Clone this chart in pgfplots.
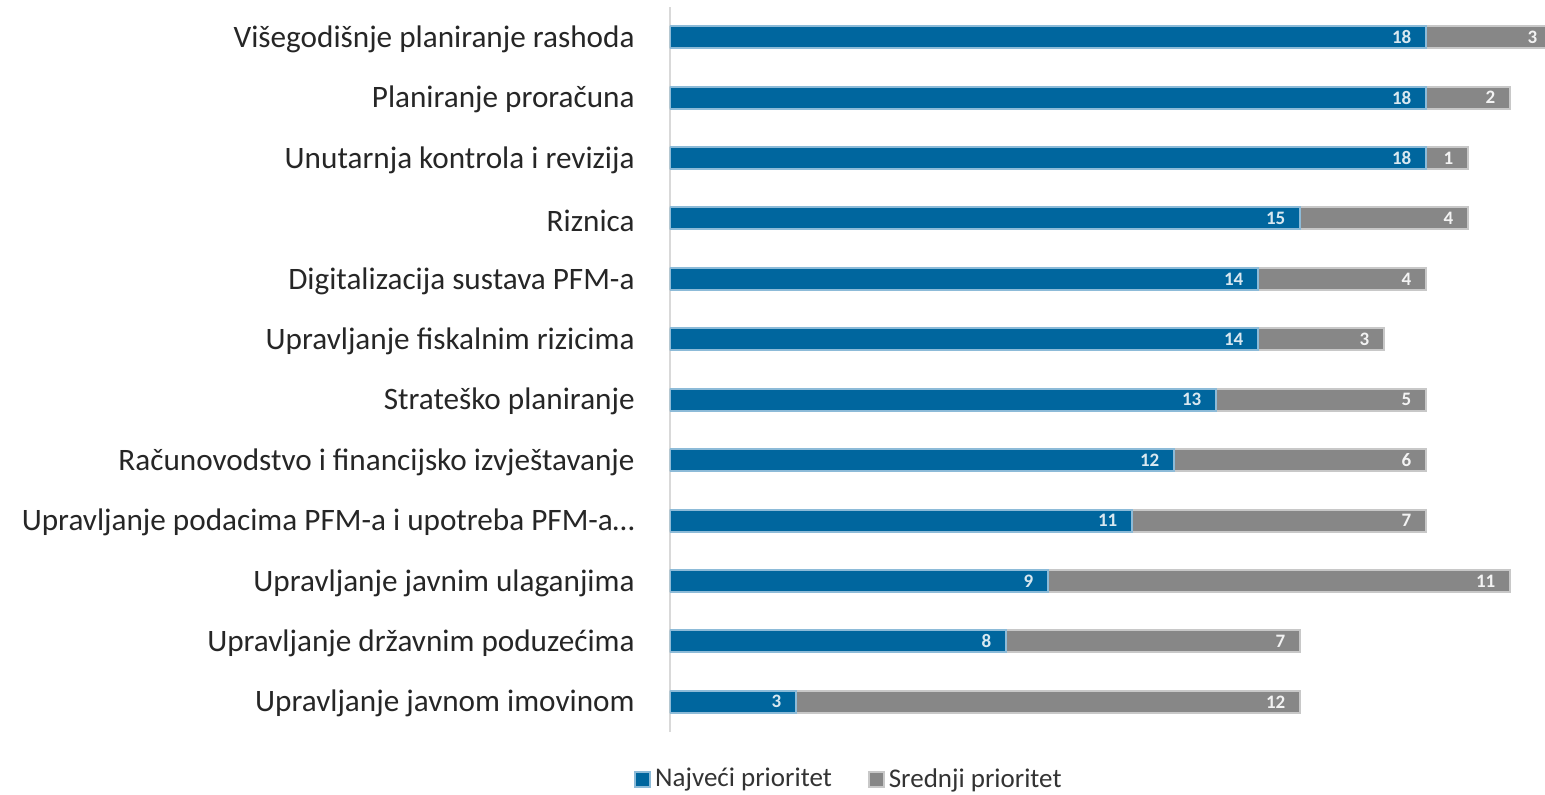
\documentclass[border=0pt]{standalone}
\usepackage{pgfplots}
\pgfplotsset{compat=1.18}
\usepackage{fontspec}
\setmainfont{Carlito}
\definecolor{cblue}{HTML}{00669E}
\definecolor{cblueb}{HTML}{8DBBD8}
\definecolor{cgray}{HTML}{878787}
\definecolor{cgrayb}{HTML}{C8C8C8}
\definecolor{caxis}{HTML}{D9D9D9}
\begin{document}
\begin{tikzpicture}
\begin{axis}[
 scale only axis, width=441pt, height=362.5pt,
 xbar stacked, bar width=11pt,
 xmin=0, xmax=21, ymin=-0.5, ymax=11.5,
 axis x line=none, axis y line*=left,
 axis line style={caxis, line width=1pt},
 ytick={0,1,2,3,4,5,6,7,8,9,10,11},
 yticklabels={{Upravljanje javnom imovinom}, {Upravljanje državnim poduzećima}, {Upravljanje javnim ulaganjima}, {Upravljanje podacima PFM-a i upotreba PFM-a\ldots}, {Računovodstvo i financijsko izvještavanje}, {Strateško planiranje}, {Upravljanje fiskalnim rizicima}, {Digitalizacija sustava PFM-a}, {Riznica}, {Unutarnja kontrola i revizija}, {Planiranje proračuna}, {Višegodišnje planiranje rashoda}},
 major tick length=0pt,
 yticklabel style={font=\fontsize{15.6}{18}\selectfont, text=black!85, inner sep=0pt, xshift=-17.5pt, yshift=-1pt},
 visualization depends on={rawx \as \rawx},
 nodes near coords={\pgfplotspointmeta}, point meta=explicit symbolic,
 every node near coord/.append style={anchor=east, font=\fontsize{9.5}{11}\selectfont\bfseries, xshift={\rawx*10.5pt-3.5pt}},
 legend style={at={(0.204,-0.065)}, anchor=center, draw=none, legend columns=2,
   font=\fontsize{13.5}{16}\selectfont, text=black!80,
   /tikz/every even column/.append style={column sep=16pt}},
 legend image code/.code={\fill[#1] (0pt,-3.75pt) rectangle (7.5pt,3.75pt);},
]
\addplot[fill=cblue, draw=cblueb, line width=1pt, nodes near coords style={text=white!85!cblue}] coordinates {
 (3,0) [3] (8,1) [8] (9,2) [9] (11,3) [11] (12,4) [12] (13,5) [13]
 (14,6) [14] (14,7) [14] (15,8) [15] (18,9) [18] (18,10) [18] (18,11) [18]};
\addplot[fill=cgray, draw=cgrayb, line width=1pt, nodes near coords style={text=white!90!cgray}] coordinates {
 (12,0) [12] (7,1) [7] (11,2) [11] (7,3) [7] (6,4) [6] (5,5) [5]
 (3,6) [3] (4,7) [4] (4,8) [4] (1,9) [1] (2,10) [2] (3,11) [3]};
\legend{Najveći prioritet, Srednji prioritet}
\coordinate (bl) at (rel axis cs:0,0);
\coordinate (tr) at (rel axis cs:1,1);
\end{axis}
\pgfresetboundingbox
\path[use as bounding box] ([xshift=-335pt, yshift=-31pt]bl) rectangle ([xshift=-3.5pt, yshift=3.5pt]tr);
\end{tikzpicture}
\end{document}
